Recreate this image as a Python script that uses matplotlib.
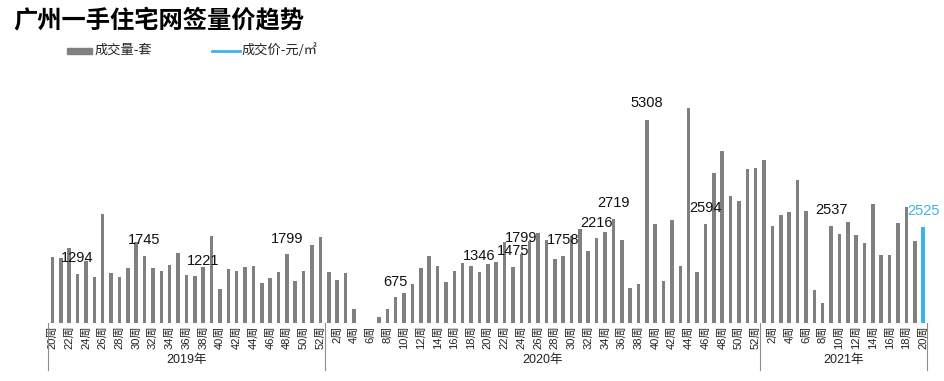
import matplotlib
matplotlib.use("Agg")
import matplotlib.pyplot as plt
import matplotlib.transforms as mtransforms
from matplotlib.patches import Rectangle
from matplotlib.lines import Line2D

plt.rcParams['font.family'] = ['Noto Sans CJK SC', 'DejaVu Sans']

# weekly deal volume (套), 2019 wk20 -> 2021 wk20
vol_2019 = [1729, 1703, 1965, 1294, 1624, 1205, 2856, 1310, 1205, 1441, 2122,
            1745, 1441, 1362, 1520, 1834, 1258, 1221, 1467, 2279, 891, 1415,
            1362, 1467, 1493, 1048, 1179, 1336, 1799, 1100, 1362, 2044, 2253]
vol_2020 = [1336, 1127, 1310, 367, 0, 0, 157, 367, 675, 786, 1022, 1441, 1755,
            1493, 1074, 1362, 1572, 1493, 1346, 1546, 1598, 2122, 1475, 1799,
            2148, 2358, 2175, 1677, 1758, 2279, 2463, 1886, 2216, 2384, 2719,
            2175, 917, 1022, 5308, 2590, 1100, 2699, 1493, 5633, 1336, 2594,
            3930, 4506, 3327, 3196, 4035, 4061]
vol_2021 = [4271, 2541, 2830, 2908, 3747, 2934, 865, 524, 2537, 2332, 2646,
            2306, 2096, 3118, 1782, 1782, 2620, 3039, 2148, 2525]

weeks = ([f"{w}周" for w in range(20, 53)] + [f"{w}周" for w in range(1, 53)]
         + [f"{w}周" for w in range(1, 21)])
years = ['2019年', '2020年', '2021年']

# data labels as shown on the chart
label_x = [3, 11, 18, 28, 41, 51, 55, 56, 61, 65, 67, 71, 78, 93, 104]
label_y = [1703, 2175, 1624, 2200, 1074, 1755, 1886, 2227, 2175, 2620, 3144,
           5764, 3013, 2961, 2934]
label_text = ['1294', '1745', '1221', '1799', '675', '1346', '1475', '1799',
              '1758', '2216', '2719', '5308', '2594', '2537', '2525']

GRAY = '#808080'
CYAN = '#3bb4e6'
NUM_FONT = ['Liberation Sans', 'Noto Sans CJK SC']

volume = vol_2019 + vol_2020 + vol_2021
x = list(range(len(volume)))
colors = [GRAY] * (len(volume) - 1) + [CYAN]

fig = plt.figure(figsize=(9.44, 3.81), dpi=100)
W, H = 944, 381
ax = fig.add_axes([48.3 / W, 1 - 323 / H, 879 / W, 233 / H])

ax.bar(x, volume, width=0.42, color=colors)
ax.set_xlim(-0.5, len(volume) - 0.5)
ax.set_ylim(0, 6105)

for s in ax.spines.values():
    s.set_visible(False)
ax.set_yticks([])
ax.set_xticks(x[::2])
ax.set_xticklabels(weeks[::2], rotation=90, fontsize=8, family=NUM_FONT,
                   color='#222222')
ax.tick_params(axis='x', length=0, pad=2)

for xi, yi, t in zip(label_x, label_y, label_text):
    c = CYAN if xi == len(volume) - 1 else '#111111'
    ax.text(xi, yi, t, ha='center', va='center', fontsize=10.5,
            family=NUM_FONT, color=c)

# year group dividers and labels
trans = mtransforms.blended_transform_factory(ax.transData, ax.transAxes)
n19, n20, n21 = len(vol_2019), len(vol_2020), len(vol_2021)
bounds = [-0.5, n19 - 0.5, n19 + n20 - 0.5, n19 + n20 + n21 - 0.5]
for b in bounds:
    ax.plot([b, b], [0, -0.2], color='#8c8c8c', lw=0.8, transform=trans,
            clip_on=False)
for i, yr in enumerate(years):
    ax.text((bounds[i] + bounds[i + 1]) / 2, -0.158, yr, transform=trans,
            ha='center', va='center', fontsize=9, family=NUM_FONT,
            color='#222222')

# title and legend
fig.text(13 / W, 1 - 20 / H, '广州一手住宅网签量价趋势', fontsize=17.5,
         fontweight='bold', ha='left', va='center')
fig.add_artist(Rectangle((67 / W, 1 - 53.5 / H), 25 / W, 6 / H,
                         transform=fig.transFigure, color=GRAY))
fig.text(95 / W, 1 - 50.5 / H, '成交量-套', fontsize=9.5, va='center',
         color='#222222')
fig.add_artist(Line2D([212 / W, 240 / W], [1 - 50.5 / H, 1 - 50.5 / H],
                      transform=fig.transFigure, color=CYAN, lw=2))
fig.text(242 / W, 1 - 50.5 / H, '成交价-元/㎡', fontsize=9.5, va='center',
         color='#222222')

fig.savefig('out.png', dpi=100)
